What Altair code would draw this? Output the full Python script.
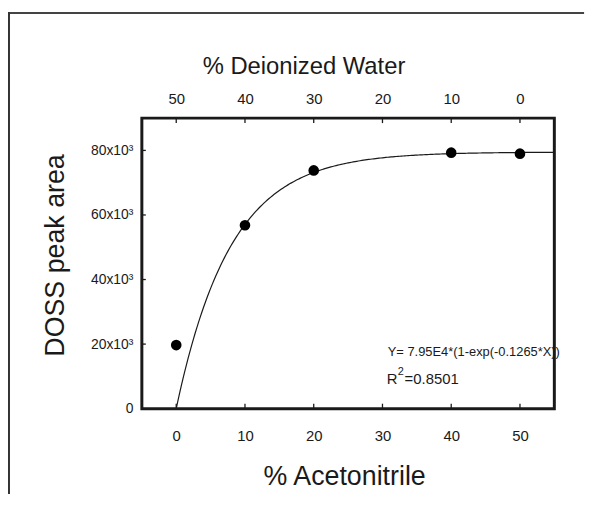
import altair as alt
import pandas as pd

# ---- data ----
acetonitrile = [0, 10, 20, 40, 50]
peak_area = [19700, 56800, 73800, 79300, 79000]
x_ticks = [0, 10, 20, 30, 40, 50]
water_ticks = [50, 40, 30, 20, 10, 0]
y_ticks = [0, 20000, 40000, 60000, 80000]
fit_a = 79500
fit_k = 0.1265
eq_text = ["Y= 7.95E4*(1-exp(-0.1265*X))"]
r2_main = ["R"]
r2_sup = ["2"]
r2_rest = ["=0.8501"]

W, H = 416, 293
FONT = "Liberation Sans"
INK = "#1a1a1a"

xsc = alt.Scale(domain=[-5, 55], nice=False, zero=False)
xsc_rev = alt.Scale(domain=[-5, 55], nice=False, zero=False, reverse=True)
ysc = alt.Scale(domain=[0, 90000], nice=False, zero=False)
one = pd.DataFrame({"d": [0]})

def hline(x1, x2, y, w, c):
    return alt.Chart(one).mark_rule(color=c, strokeWidth=w).encode(
        x=alt.value(x1), x2=alt.value(x2), y=alt.value(y))

def vline(x, y1, y2, w, c):
    return alt.Chart(one).mark_rule(color=c, strokeWidth=w).encode(
        x=alt.value(x), y=alt.value(y1), y2=alt.value(y2))

# outer figure frame (top and left edges)
frame = [hline(-134, W + 30, -106, 2, "#444444"), vline(-134, -107, H + 100, 2, "#333333")]

bottom = alt.Chart(pd.DataFrame({"acn": x_ticks})).mark_rule(color=INK, strokeWidth=1.3).encode(
    x=alt.X("acn:Q", scale=xsc, axis=alt.Axis(
        orient="bottom", values=x_ticks, ticks=False, domain=False, grid=False,
        labelFontSize=15, labelPadding=20, labelColor=INK, labelFont=FONT, format="d",
        title="% Acetonitrile", titleFontSize=27, titleFontWeight="normal", titleFont=FONT,
        titleColor=INK, titleX=204, titleY=69, titleBaseline="middle", titleAlign="center")),
    y=alt.value(H), y2=alt.value(H - 5))

top = alt.Chart(pd.DataFrame({"water": water_ticks})).mark_rule(color=INK, strokeWidth=1.3).encode(
    x=alt.X("water:Q", scale=xsc_rev, axis=alt.Axis(
        orient="top", values=water_ticks, ticks=False, domain=False, grid=False,
        labelFontSize=15, labelPadding=12, labelColor=INK, labelFont=FONT, format="d",
        title="% Deionized Water", titleFontSize=24, titleFontWeight="normal", titleFont=FONT,
        titleColor=INK, titleX=163, titleY=-52, titleBaseline="middle", titleAlign="center")),
    y=alt.value(0), y2=alt.value(5))

left = alt.Chart(pd.DataFrame({"v": y_ticks})).mark_rule(color=INK, strokeWidth=1.3).encode(
    y=alt.Y("v:Q", scale=ysc, axis=alt.Axis(
        orient="left", values=y_ticks, ticks=False, domain=False, grid=False,
        labelFontSize=14, labelPadding=9, labelColor=INK, labelFont=FONT,
        labelExpr="datum.value == 0 ? '0' : (datum.value/1000) + 'x10\u00b3'",
        title="DOSS peak area", titleFontSize=27, titleFontWeight="normal", titleFont=FONT,
        titleColor=INK, titleX=-87, titleY=138, titleBaseline="middle", titleAlign="center", titleAngle=-90)),
    x=alt.value(0), x2=alt.value(4))

curve = alt.Chart(alt.sequence(start=0, stop=55.01, step=0.25, as_="x")).transform_calculate(
    y=f"{fit_a}*(1-exp(-{fit_k}*datum.x))"
).mark_line(color=INK, strokeWidth=1.2).encode(
    x=alt.X("x:Q", scale=xsc, axis=None),
    y=alt.Y("y:Q", scale=ysc, axis=None))

points = alt.Chart(pd.DataFrame({"acn": acetonitrile, "area": peak_area})).mark_circle(
    size=115, color="black", opacity=1).encode(
    x=alt.X("acn:Q", scale=xsc, axis=None),
    y=alt.Y("area:Q", scale=ysc, axis=None))

def label(lst, x, y, size):
    return alt.Chart(pd.DataFrame({"t": lst})).mark_text(
        align="left", baseline="middle", fontSize=size, font=FONT, color=INK).encode(
        text="t:N", x=alt.value(x), y=alt.value(y))

eq = label(eq_text, 248, 236, 13)
r_a = label(r2_main, 247, 263, 15)
r_b = label(r2_sup, 258, 256, 11)
r_c = label(r2_rest, 265, 263, 15)

chart = alt.layer(
    *frame, bottom, top, left, curve, points, eq, r_a, r_b, r_c
).resolve_scale(x="independent", y="independent").properties(
    width=W, height=H,
    autosize=alt.AutoSizeParams(type="none"),
    padding={"left": 135, "top": 109, "right": 40, "bottom": 84},
).configure_view(stroke=INK, strokeWidth=3)

chart.save("out.html", embed_options={"renderer": "svg", "actions": False})
